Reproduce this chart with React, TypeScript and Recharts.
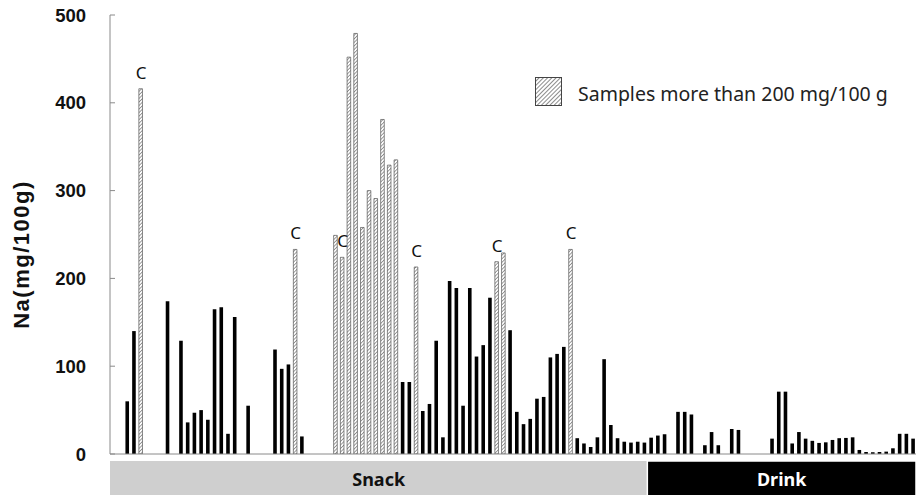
import React from 'react';
import {
  BarChart,
  Bar,
  XAxis,
  YAxis,
  Cell,
  LabelList,
  ReferenceArea,
  ReferenceLine,
  Legend,
} from 'recharts';

// ---- data (mg Na / 100 g), null = empty slot ----
const leadingEmptySlots = [null, null];

const snackValues: (number | null)[] = [
  60, 140, 416, null, null, null, 174, null, 129, 36,
  47, 50, 39, 165, 167, 23, 156, null, 55, null,
  null, null, 119, 97, 102, 233, 20, null, null, null,
  null, 249, 224, 452, 479, 258, 300, 291, 381, 329,
  335, 82, 82, 213, 49, 57, 129, 19, 197, 189,
  55, 189, 111, 124, 178, 219, 229, 141, 48, 34,
  40, 63, 65, 110, 114, 122, 233, 18, 12, 8,
  19, 108, 33, 18, 14, 13, 14, 13,
];

const drinkValues: (number | null)[] = [
  18.6, 21, 22.5, null, 48, 48, 45, null, 10, 25,
  10, null, 28.5, 27.4, null, null, null, null, 17.5, 71,
  71, 12, 25, 17.5, 15, 12.6, 13.3, 16, 18, 18.3,
  19, 4.6, 2.3, 2, 2.3, 2.7, 6.5, 23, 23, 17.5,
];

// snack samples (index in snackValues) marked with "C"
const cMarkedSnacks = [2, 25, 32, 43, 55, 66];
const markText = 'C';

const threshold = 200;
const yTicks = [0, 100, 200, 300, 400, 500];
const groupLabels = ['Snack', 'Drink'];
const legendLabel = 'Samples more than 200 mg/100 g';
const yLabel = 'Na(mg/100g)';

type Row = { id: string; na: number | null; group: string; mark: string | null };

const rows: Row[] = [
  ...leadingEmptySlots.map((v) => ({ na: v, group: groupLabels[0], mark: null })),
  ...snackValues.map((v, i) => ({
    na: v,
    group: groupLabels[0],
    mark: cMarkedSnacks.includes(i) ? markText : null,
  })),
  ...drinkValues.map((v) => ({ na: v, group: groupLabels[1], mark: null })),
].map((r, i) => ({ ...r, id: `s${i}` }));

const snackRows = rows.filter((r) => r.group === groupLabels[0]);
const drinkRows = rows.filter((r) => r.group === groupLabels[1]);

const AXIS_GRAY = '#8a8a8a';

const YTick = (props: any) => {
  const { x, y, payload } = props;
  return (
    <g>
      <line x1={x} x2={x + 5} y1={y} y2={y} stroke={AXIS_GRAY} strokeWidth={1} />
      <text
        x={x - 24}
        y={y}
        dy="0.36em"
        textAnchor="end"
        fontFamily="Liberation Sans, Arial, sans-serif"
        fontWeight={700}
        fontSize={18.5}
        fill="#111"
      >
        {payload.value}
      </text>
    </g>
  );
};

const YLabel = (props: any) => {
  const vb = props.viewBox || { x: 0, y: 15, width: 110, height: 439 };
  const cx = 29;
  const cy = vb.y + vb.height / 2 + 20;
  return (
    <text
      x={cx}
      y={cy}
      transform={`rotate(-90 ${cx} ${cy})`}
      textAnchor="middle"
      fontFamily="Liberation Sans, Arial, sans-serif"
      fontWeight={700}
      fontSize={22}
      letterSpacing={1.5}
      fill="#111"
    >
      {yLabel}
    </text>
  );
};

const CMark = (props: any) => {
  const { x, y, width, value } = props;
  if (value !== markText || !Number.isFinite(x) || !Number.isFinite(y)) return null;
  return (
    <text
      x={x + width / 2 + 0.5}
      y={y - 10}
      textAnchor="middle"
      fontFamily="Noto Sans, sans-serif"
      fontSize={17}
      fill="#111"
    >
      {value}
    </text>
  );
};

const LegendBox = () => (
  <div style={{ display: 'flex', alignItems: 'center' }}>
    <svg width={27} height={29} style={{ display: 'block' }}>
      <rect x={0.5} y={0.5} width={26} height={28} fill="url(#hatchLegend)" stroke="#444" strokeWidth={1} />
    </svg>
    <span
      style={{
        marginLeft: 16,
        fontSize: 19.5,
        fontFamily: 'Noto Sans, sans-serif',
        color: '#222',
        position: 'relative',
        top: 2,
        whiteSpace: 'nowrap',
      }}
    >
      {legendLabel}
    </span>
  </div>
);

export default function App() {
  return (
    <div style={{ position: 'absolute', left: 0, top: 0, width: 920, height: 495, background: '#fff' }}>
      <svg width={0} height={0} style={{ position: 'absolute' }}>
        <defs>
          <pattern id="hatch" patternUnits="userSpaceOnUse" width={2.5} height={2.5} patternTransform="rotate(45)">
            <rect width={2.5} height={2.5} fill="#ffffff" />
            <line x1={0} y1={0} x2={0} y2={2.5} stroke="#777" strokeWidth={1.4} />
          </pattern>
          <pattern id="hatchLegend" patternUnits="userSpaceOnUse" width={3} height={3} patternTransform="rotate(45)">
            <rect width={3} height={3} fill="#ffffff" />
            <line x1={0} y1={0} x2={0} y2={3} stroke="#666" strokeWidth={1.5} />
          </pattern>
        </defs>
      </svg>
      <BarChart
        width={920}
        height={495}
        data={rows}
        margin={{ top: 15, right: 4, bottom: 41, left: 0 }}
        barCategoryGap={0}
      >
        <XAxis dataKey="id" type="category" hide />
        <YAxis
          width={110}
          domain={[0, 500]}
          ticks={yTicks}
          interval={0}
          allowDataOverflow
          axisLine={{ stroke: AXIS_GRAY, strokeWidth: 1 }}
          tickLine={false}
          tickSize={0}
          tickMargin={0}
          tick={<YTick />}
          label={<YLabel />}
        />
        <Legend
          layout="vertical"
          align="center"
          verticalAlign="middle"
          content={<LegendBox />}
          wrapperStyle={{ left: 535, top: 77, width: 'auto', height: 'auto' }}
        />
        <ReferenceArea
          x1={snackRows[0].id}
          x2={snackRows[snackRows.length - 1].id}
          y1={-8}
          y2={-50}
          ifOverflow="visible"
          fill="#cfcfcf"
          fillOpacity={1}
          stroke="none"
          label={{ value: groupLabels[0], position: 'center', fill: '#111', fontSize: 18, fontWeight: 700, fontFamily: 'Noto Sans, sans-serif' }}
        />
        <ReferenceArea
          x1={drinkRows[0].id}
          x2={drinkRows[drinkRows.length - 1].id}
          y1={-8}
          y2={-50}
          ifOverflow="visible"
          fill="#000"
          fillOpacity={1}
          stroke="#fff"
          strokeWidth={1.5}
          label={{ value: groupLabels[1], position: 'center', fill: '#fff', fontSize: 18, fontWeight: 700, fontFamily: 'Noto Sans, sans-serif' }}
        />
        <Bar dataKey="na" name={legendLabel} barSize={3.6} isAnimationActive={false}>
          {rows.map((r) => {
            const high = r.na !== null && r.na > threshold;
            return (
              <Cell
                key={r.id}
                fill={high ? 'url(#hatch)' : '#000'}
                stroke={high ? '#555' : 'none'}
                strokeWidth={high ? 0.7 : 0}
              />
            );
          })}
          <LabelList dataKey="mark" content={<CMark />} />
        </Bar>
        <ReferenceLine y={0} stroke={AXIS_GRAY} strokeWidth={1} ifOverflow="visible" />
      </BarChart>
    </div>
  );
}
